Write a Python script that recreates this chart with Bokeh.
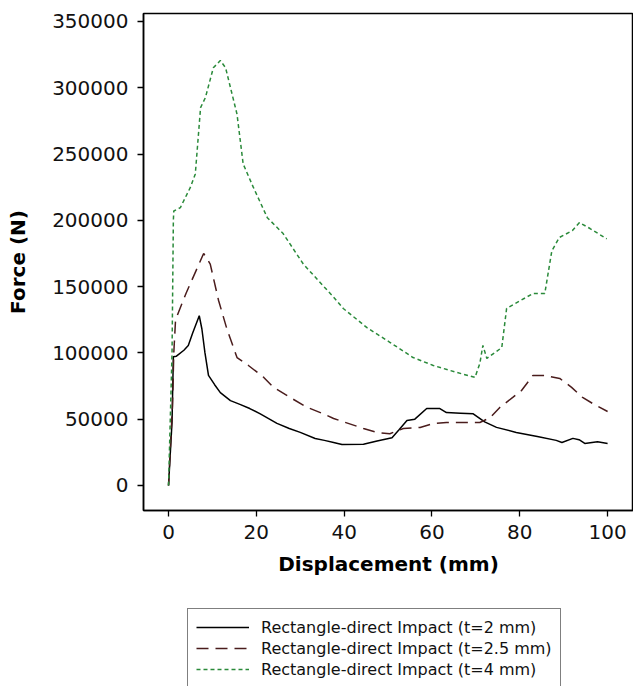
from bokeh.plotting import figure
from bokeh.layouts import column
from bokeh.models import FixedTicker, Range1d, Legend, LegendItem, NumeralTickFormatter
from bokeh.embed import file_html
from bokeh.resources import INLINE

# Rectangle-direct Impact (t=2 mm)
x_t2 = [0, 0.8, 1.1, 1.8, 3.5, 4.5, 5.5, 7.0, 7.6, 8.3, 9.1, 10.5, 11.8, 14.1, 16.4, 18.5,
        20.9, 24.7, 27.5, 30, 33.4, 35.5, 37.6, 39.5, 44.4, 47.5, 50.9, 52.5, 54.3, 56.1,
        58.8, 61.8, 63.3, 66.5, 69.4, 72.0, 74.7, 79.2, 84.0, 88.3, 89.6, 92.1, 93.5,
        94.8, 97.7, 100]
y_t2 = [0, 48000, 97000, 97500, 102000, 105500, 115000, 128000, 118000, 100000, 83000, 76000,
        70000, 64000, 61000, 58000, 54000, 46800, 43000, 40000, 35400, 34000, 32400, 30900,
        31000, 33500, 36000, 42000, 49000, 50000, 58000, 58000, 55000, 54500, 54000, 48000,
        43800, 40000, 37000, 34000, 32400, 35500, 34500, 31700, 33000, 31700]

# Rectangle-direct Impact (t=2.5 mm)
x_t25 = [0, 0.9, 1.2, 1.6, 4.0, 6.0, 8.0, 9.5, 11.4, 13.3, 15.6, 18.2, 21.7, 23.9, 27.7,
         31.5, 35.3, 37.6, 44.4, 47.4, 50.4, 53.5, 57.3, 60.3, 63.3, 66.4, 70.9, 73.2,
         75.5, 78.4, 80.4, 83.0, 85.7, 89.1, 91.8, 94.3, 96.6, 100]
y_t25 = [0, 60000, 100000, 125000, 145000, 160000, 175000, 167000, 139500, 118000, 96500,
         90500, 81500, 74000, 66400, 59000, 54000, 50500, 43000, 40000, 39000, 43000, 43700,
         46700, 47500, 47500, 47500, 51000, 59000, 66400, 71600, 83000, 83000, 80700, 74000,
         66400, 61800, 55800]

# Rectangle-direct Impact (t=4 mm)
x_t4 = [0, 0.8, 1.1, 1.2, 2.7, 5.0, 6.1, 7.3, 8.4, 10.2, 11.8, 13.0, 15.6, 17.0, 19.3, 22.5,
        26.1, 30.7, 34.0, 37.6, 39.8, 45.2, 50.4, 55.7, 60.3, 65.7, 69.8, 70.9, 71.6, 72.5,
        75.9, 77.0, 83.0, 85.7, 87.3, 89.0, 92.0, 93.6, 96.0, 99.8]
y_t4 = [0, 100000, 200000, 207000, 209600, 225000, 235000, 285000, 292600, 315000, 320500,
        315000, 280000, 242500, 225000, 202000, 190000, 167000, 155000, 142000, 133500,
        119000, 108000, 96500, 90500, 85200, 81500, 92000, 105600, 95800, 104000, 133500,
        144800, 144800, 177000, 187000, 192300, 198300, 193800, 186000]

y_ticks = [0, 50000, 100000, 150000, 200000, 250000, 300000, 350000]
x_ticks = [0, 20, 40, 60, 80, 100]
labels = ["Rectangle-direct Impact (t=2 mm)",
          "Rectangle-direct Impact (t=2.5 mm)",
          "Rectangle-direct Impact (t=4 mm)"]

FONT = "DejaVu Sans"
COLORS = ["black", "#4a1c1c", "#2a8a3a"]
DASHES = ["solid", "12 7", "4 3"]

p = figure(width=633, height=590, output_backend="svg", toolbar_location=None,
           x_range=Range1d(-5.7, 105.9), y_range=Range1d(-18900, 356000),
           min_border_left=143, min_border_top=13, min_border_right=0, min_border_bottom=80)

p.xgrid.visible = False
p.ygrid.visible = False
p.outline_line_color = "black"
p.outline_line_width = 1.5
p.background_fill_color = "white"
p.border_fill_color = "white"

p.line(x_t2, y_t2, line_color=COLORS[0], line_width=1.5, line_dash=DASHES[0])
p.line(x_t25, y_t25, line_color=COLORS[1], line_width=1.5, line_dash=DASHES[1])
p.line(x_t4, y_t4, line_color=COLORS[2], line_width=1.5, line_dash=DASHES[2])

for ax in (p.xaxis[0], p.yaxis[0]):
    ax.axis_line_color = "black"
    ax.axis_line_width = 1.5
    ax.major_tick_line_color = "black"
    ax.major_tick_line_width = 1.3
    ax.major_tick_out = 6
    ax.major_tick_in = 0
    ax.minor_tick_line_color = None
    ax.major_label_text_font = FONT
    ax.major_label_text_font_size = "20px"
    ax.major_label_text_color = "#111111"
    ax.axis_label_text_font = FONT
    ax.axis_label_text_font_style = "bold"
    ax.axis_label_text_font_size = "20px"
    ax.axis_label_text_color = "black"

p.xaxis[0].ticker = FixedTicker(ticks=x_ticks)
p.yaxis[0].ticker = FixedTicker(ticks=y_ticks)
p.yaxis[0].formatter = NumeralTickFormatter(format="0")
p.xaxis[0].axis_label = "Displacement (mm)"
p.yaxis[0].axis_label = "Force (N)"
p.xaxis[0].major_label_standoff = 8
p.yaxis[0].major_label_standoff = 9
p.xaxis[0].axis_label_standoff = 10
p.yaxis[0].axis_label_standoff = 19

# Legend figure below the chart
p2 = figure(width=633, height=96, output_backend="svg", toolbar_location=None,
            x_range=Range1d(0, 1), y_range=Range1d(0, 1),
            x_axis_type=None, y_axis_type=None,
            min_border_left=0, min_border_right=0, min_border_top=0, min_border_bottom=0)
p2.xgrid.visible = False
p2.ygrid.visible = False
p2.outline_line_color = None
p2.border_fill_color = "white"

dummies = [p2.line([-10, -9], [-10, -10], line_color=COLORS[i], line_width=1.5,
                   line_dash=DASHES[i]) for i in range(3)]

legend = Legend(items=[LegendItem(label=labels[i], renderers=[dummies[i]]) for i in range(3)],
                location=(44, -2))
legend.label_text_font = FONT
legend.label_text_font_size = "16px"
legend.label_text_color = "#111111"
legend.glyph_width = 53
legend.glyph_height = 20
legend.label_height = 20
legend.spacing = 1
legend.padding = 8
legend.label_standoff = 12
legend.border_line_color = "black"
legend.border_line_width = 1
legend.background_fill_alpha = 1
legend.margin = 0
p2.add_layout(legend, "center")

open("out.html", "w").write(file_html(column(p, p2, spacing=0), INLINE))
